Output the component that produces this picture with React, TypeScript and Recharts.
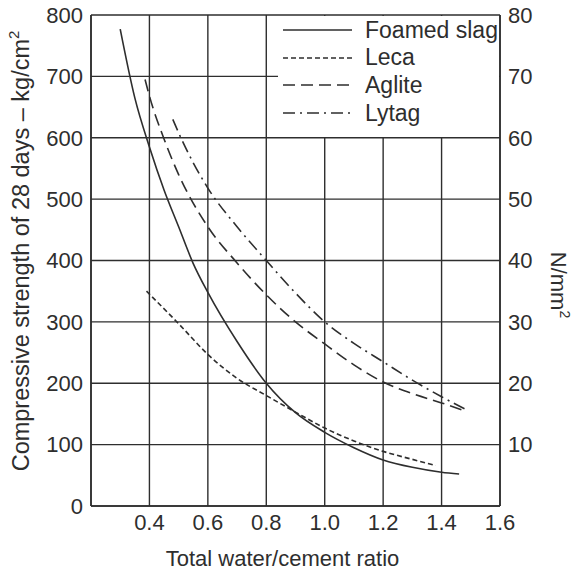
import { LineChart, Line, XAxis, YAxis, CartesianGrid, Legend } from 'recharts';

/* Compressive strength vs total water/cement ratio, four lightweight aggregates */

const xTicks = [0.4, 0.6, 0.8, 1.0, 1.2, 1.4, 1.6];
const kgTicks = [0, 100, 200, 300, 400, 500, 600, 700, 800];
const nTicks = [10, 20, 30, 40, 50, 60, 70, 80];

const foamedRatio = [0.3, 0.35, 0.4, 0.45, 0.5, 0.55, 0.6, 0.7, 0.8, 0.9, 1.0, 1.1, 1.2, 1.3, 1.4, 1.46];
const foamedStrength = [777, 665, 585, 515, 455, 395, 348, 268, 200, 152, 120, 95, 75, 63, 55, 52];

const lecaRatio = [0.39, 0.5, 0.6, 0.7, 0.8, 0.9, 1.0, 1.1, 1.2, 1.3, 1.38];
const lecaStrength = [350, 297, 247, 208, 180, 153, 127, 106, 89, 76, 66];

const agliteRatio = [0.385, 0.4, 0.45, 0.5, 0.6, 0.7, 0.8, 0.9, 1.0, 1.1, 1.2, 1.3, 1.4, 1.48];
const agliteStrength = [695, 668, 598, 540, 455, 396, 344, 300, 264, 230, 202, 183, 168, 155];

const lytagRatio = [0.48, 0.5, 0.6, 0.7, 0.8, 0.9, 1.0, 1.1, 1.2, 1.3, 1.4, 1.48];
const lytagStrength = [630, 608, 518, 455, 400, 347, 300, 265, 235, 205, 178, 158];

const pair = (xs: number[], ys: number[]) => xs.map((x, i) => ({ x, y: ys[i] }));

const series = [
  { name: 'Foamed slag', data: pair(foamedRatio, foamedStrength), dash: undefined as string | undefined },
  { name: 'Leca', data: pair(lecaRatio, lecaStrength), dash: '5 3' },
  { name: 'Aglite', data: pair(agliteRatio, agliteStrength), dash: '12 6' },
  { name: 'Lytag', data: pair(lytagRatio, lytagStrength), dash: '12 5 2 5' },
];

const INK = '#2e2e2e';
const FONT = '"Liberation Sans", Arial, sans-serif';
const tickStyle = { fontSize: 22, fill: INK, fontFamily: FONT };

function LegendBox() {
  return (
    <div style={{ background: '#fff', width: 221, height: 121, fontFamily: FONT, fontSize: 23, color: INK }}>
      {series.map((s, i) => (
        <div key={s.name} style={{ position: 'absolute', left: 5, top: 1 + i * 27.7, height: 26, display: 'flex', alignItems: 'center' }}>
          <svg width={70} height={8} style={{ marginRight: 12 }}>
            <line x1={0} y1={4} x2={69} y2={4} stroke={INK} strokeWidth={1.6} strokeDasharray={s.dash} />
          </svg>
          <span>{s.name}</span>
        </div>
      ))}
    </div>
  );
}

export default function App() {
  return (
    <div style={{ position: 'absolute', left: 0, top: 0, background: '#fff' }}>
      <LineChart width={577} height={580} margin={{ top: 15, right: 27, bottom: 34, left: 31 }}>
        <CartesianGrid stroke={INK} strokeWidth={1.4} />
        <XAxis
          type="number"
          dataKey="x"
          domain={[0.2, 1.6]}
          ticks={xTicks}
          tickFormatter={(v: number) => v.toFixed(1)}
          tick={tickStyle}
          tickLine={false}
          axisLine={{ stroke: INK, strokeWidth: 1.6 }}
          height={40}
          allowDuplicatedCategory={false}
          label={{
            content: ({ viewBox }: any) => (
              <text x={viewBox.x + viewBox.width / 2 - 13} y={566} textAnchor="middle" fontSize={22} fill={INK} fontFamily={FONT}>
                Total water/cement ratio
              </text>
            ),
          }}
        />
        <YAxis
          yAxisId={0}
          domain={[0, 800]}
          ticks={kgTicks}
          tick={tickStyle}
          tickLine={false}
          axisLine={{ stroke: INK, strokeWidth: 1.6 }}
          width={60}
          label={{
            content: () => (
              <text transform="translate(29,251) rotate(-90)" textAnchor="middle" fontSize={23.5} fill={INK} fontFamily={FONT}>
                Compressive strength of 28 days – kg/cm<tspan fontSize={15} dy={-10}>2</tspan>
              </text>
            ),
          }}
        />
        <YAxis
          yAxisId="right"
          orientation="right"
          domain={[0, 80]}
          allowDataOverflow
          ticks={nTicks}
          tick={tickStyle}
          tickLine={false}
          axisLine={{ stroke: INK, strokeWidth: 1.6 }}
          width={50}
          label={{
            content: () => (
              <text transform="translate(551,285) rotate(90)" textAnchor="middle" fontSize={22} fill={INK} fontFamily={FONT}>
                N/mm<tspan fontSize={14} dy={-9}>2</tspan>
              </text>
            ),
          }}
        />
        {series.map((s) => (
          <Line
            key={s.name}
            yAxisId={0}
            data={s.data}
            dataKey="y"
            name={s.name}
            type="monotone"
            stroke={INK}
            strokeWidth={1.6}
            strokeDasharray={s.dash}
            dot={false}
            activeDot={false}
            isAnimationActive={false}
          />
        ))}
        <Legend
          layout="vertical"
          align="center"
          verticalAlign="middle"
          content={() => <LegendBox />}
          wrapperStyle={{ left: 278, top: 16, width: 221, height: 121 }}
        />
      </LineChart>
    </div>
  );
}
